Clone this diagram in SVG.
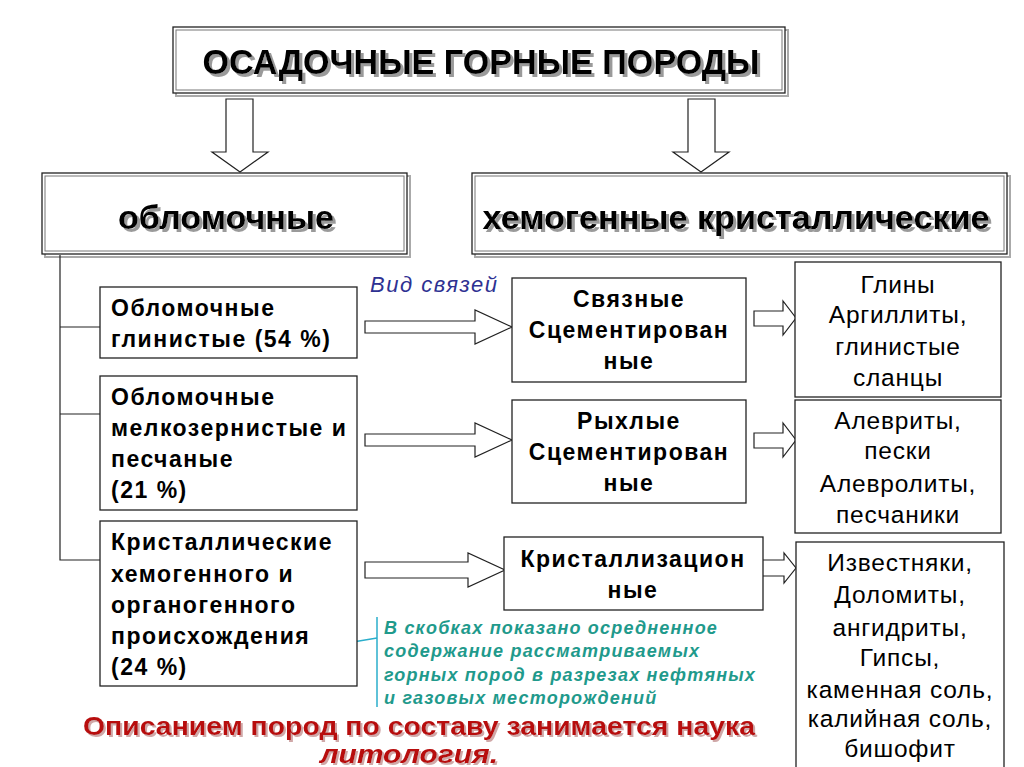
<svg xmlns="http://www.w3.org/2000/svg" width="1024" height="767" viewBox="0 0 1024 767">
<defs>
<filter id="sh" x="-5%" y="-20%" width="115%" height="150%">
<feOffset in="SourceAlpha" dx="3" dy="3" result="o"/>
<feFlood flood-color="#9a9a9a"/>
<feComposite in2="o" operator="in" result="s"/>
<feMerge><feMergeNode in="s"/><feMergeNode in="SourceGraphic"/></feMerge>
</filter>
<filter id="shr" x="-5%" y="-20%" width="115%" height="150%">
<feOffset in="SourceAlpha" dx="2" dy="2" result="o"/>
<feFlood flood-color="#d0a8a8"/>
<feComposite in2="o" operator="in" result="s"/>
<feMerge><feMergeNode in="s"/><feMergeNode in="SourceGraphic"/></feMerge>
</filter>
</defs>
<style>
.frameO{fill:#fff;stroke:#222;stroke-width:1.3}
.frameI{fill:none;stroke:#777;stroke-width:1}
.shadowline{fill:none;stroke:#aaa;stroke-width:2}
.box{fill:#fff;stroke:#222;stroke-width:1.3}
.arrow{fill:#fff;stroke:#222;stroke-width:1.2;stroke-linejoin:miter}
.conn{fill:none;stroke:#222;stroke-width:1.2}
.big{font-family:"Liberation Sans",Arial,sans-serif;font-weight:bold;text-anchor:middle;fill:#000}
.lt{font-family:"Liberation Sans",Arial,sans-serif;font-weight:bold;font-size:23px;fill:#000;letter-spacing:1.5px}
.ct{font-family:"Liberation Sans",Arial,sans-serif;font-weight:bold;font-size:23px;fill:#000;text-anchor:middle;letter-spacing:1.5px}
.rt{font-family:"Liberation Sans",Arial,sans-serif;font-size:24.5px;fill:#000;text-anchor:middle;letter-spacing:0.8px}
.note{font-family:"Liberation Sans",Arial,sans-serif;font-weight:bold;font-style:italic;font-size:18px;fill:#1f9a8c;letter-spacing:1.2px}
.red{font-family:"Liberation Sans",Arial,sans-serif;font-weight:bold;font-size:26px;fill:#b80f0f}
</style>
<rect width="1024" height="767" fill="#fff"/>

<g id="title">
<rect x="176" y="30" width="612" height="66" class="shadowline"/>
<rect x="173" y="27" width="612" height="66" class="frameO"/>
<rect x="176" y="30" width="606" height="60" class="frameI"/>
<text class="big" x="481" y="74" font-size="35" textLength="557" lengthAdjust="spacingAndGlyphs" filter="url(#sh)">ОСАДОЧНЫЕ ГОРНЫЕ ПОРОДЫ</text>
</g>

<g id="oblomochnye">
<rect x="45" y="176" width="365" height="81" class="shadowline"/>
<rect x="42" y="173" width="365" height="81" class="frameO"/>
<rect x="45" y="176" width="359" height="75" class="frameI"/>
<text class="big" x="226" y="229" font-size="34" textLength="216" lengthAdjust="spacingAndGlyphs" filter="url(#sh)">обломочные</text>
</g>

<g id="hemogennye">
<rect x="475" y="176" width="535" height="81" class="shadowline"/>
<rect x="472" y="173" width="535" height="81" class="frameO"/>
<rect x="475" y="176" width="529" height="75" class="frameI"/>
<text class="big" x="736" y="229" font-size="34" textLength="507" lengthAdjust="spacingAndGlyphs" filter="url(#sh)">хемогенные кристаллические</text>
</g>

<g id="connectors">
<polygon class="arrow" points="226,99 253,99 253,152 268,152 240,172 212,152 226,152"/>
<polygon class="arrow" points="688,99 715,99 715,152 729,152 701,172 673,152 688,152"/>
<polyline class="conn" points="60,255 60,560 100,560"/>
<line class="conn" x1="60" y1="327" x2="100" y2="327"/>
<line class="conn" x1="60" y1="414" x2="100" y2="414"/>
<polygon class="arrow" points="365,321 475,321 475,310 512,327 475,344 475,333 365,333"/>
<polygon class="arrow" points="365,434 475,434 475,423 512,440 475,457 475,446 365,446"/>
<polygon class="arrow" points="365,562 468,562 468,553 505,570 468,587 468,578 365,578"/>
<polygon class="arrow" points="754,311 783,311 783,301 796,318 783,335 783,326 754,326"/>
<polygon class="arrow" points="754,433 783,433 783,423 796,440 783,457 783,448 754,448"/>
<polygon class="arrow" points="755,560 784,560 784,553 796,568 784,583 784,576 755,576"/>
<line x1="197" y1="668" x2="377" y2="638" stroke="#2aaecb" stroke-width="1.5"/>
<line x1="377" y1="617" x2="377" y2="707" stroke="#2aaecb" stroke-width="1.5"/>
</g>

<text x="370" y="292" font-family="Liberation Sans, Arial, sans-serif" font-style="italic" font-size="22" letter-spacing="1.5" fill="#2e3192">Вид связей</text>

<g id="b1">
<rect x="100" y="287" width="257" height="71" class="box"/>
<text class="lt" x="111" y="316">Обломочные</text>
<text class="lt" x="111" y="347">глинистые (54 %)</text>
</g>
<g id="b2">
<rect x="100" y="376" width="257" height="134" class="box"/>
<text class="lt" x="111" y="405">Обломочные</text>
<text class="lt" x="111" y="436">мелкозернистые и</text>
<text class="lt" x="111" y="467">песчаные</text>
<text class="lt" x="111" y="498">(21 %)</text>
</g>
<g id="b3">
<rect x="100" y="521" width="257" height="165" class="box"/>
<text class="lt" x="111" y="550">Кристаллические</text>
<text class="lt" x="111" y="582">хемогенного и</text>
<text class="lt" x="111" y="613">органогенного</text>
<text class="lt" x="111" y="644">происхождения</text>
<text class="lt" x="111" y="675">(24 %)</text>
</g>

<g id="m1">
<rect x="512" y="278" width="234" height="104" class="box"/>
<text class="ct" x="629" y="307">Связные</text>
<text class="ct" x="629" y="338">Сцементирован</text>
<text class="ct" x="629" y="369">ные</text>
</g>
<g id="m2">
<rect x="512" y="400" width="234" height="103" class="box"/>
<text class="ct" x="629" y="429">Рыхлые</text>
<text class="ct" x="629" y="460">Сцементирован</text>
<text class="ct" x="629" y="491">ные</text>
</g>
<g id="m3">
<rect x="504" y="537" width="259" height="73" class="box"/>
<text class="ct" x="633" y="567">Кристаллизацион</text>
<text class="ct" x="633" y="598">ные</text>
</g>

<g id="r1">
<rect x="795" y="262" width="206" height="135" class="box"/>
<text class="rt" x="898" y="293">Глины</text>
<text class="rt" x="898" y="323">Аргиллиты,</text>
<text class="rt" x="898" y="355">глинистые</text>
<text class="rt" x="898" y="386">сланцы</text>
</g>
<g id="r2">
<rect x="795" y="400" width="206" height="133" class="box"/>
<text class="rt" x="898" y="429">Алевриты,</text>
<text class="rt" x="898" y="459">пески</text>
<text class="rt" x="898" y="492">Алевролиты,</text>
<text class="rt" x="898" y="523">песчаники</text>
</g>
<g id="r3">
<rect x="796" y="542" width="208" height="240" class="box"/>
<text class="rt" x="900" y="571">Известняки,</text>
<text class="rt" x="900" y="603">Доломиты,</text>
<text class="rt" x="900" y="636">ангидриты,</text>
<text class="rt" x="900" y="666">Гипсы,</text>
<text class="rt" x="900" y="698">каменная соль,</text>
<text class="rt" x="900" y="727">калийная соль,</text>
<text class="rt" x="900" y="757">бишофит</text>
</g>

<g id="note">
<text class="note" x="384" y="634">В скобках показано осредненное</text>
<text class="note" x="384" y="657">содержание рассматриваемых</text>
<text class="note" x="384" y="681">горных пород в разрезах нефтяных</text>
<text class="note" x="384" y="704">и газовых месторождений</text>
</g>

<g id="bottom">
<text class="red" x="83" y="735" textLength="672" lengthAdjust="spacingAndGlyphs" filter="url(#shr)">Описанием пород по составу занимается наука</text>
<text class="red" x="320" y="763" font-size="27" font-style="italic" textLength="178" lengthAdjust="spacingAndGlyphs" filter="url(#shr)">литология.</text>
</g>
</svg>
